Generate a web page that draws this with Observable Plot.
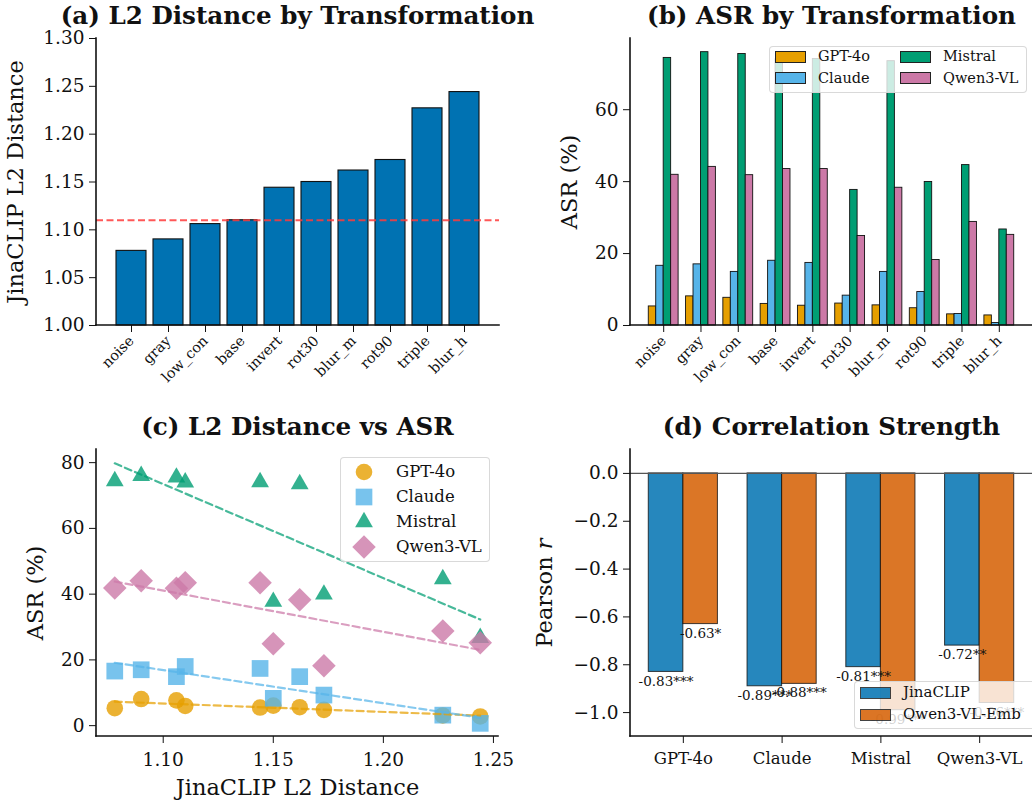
<!DOCTYPE html>
<html><head><meta charset="utf-8">
<script src="https://cdn.jsdelivr.net/npm/d3@7"></script>
<script src="https://cdn.jsdelivr.net/npm/@observablehq/plot@0.6"></script>
<style>
body{margin:0;background:#fff;}
#root{position:relative;width:1032px;height:804px;overflow:hidden;font-family:"DejaVu Serif",serif;color:#111;}
.panel{position:absolute;}
.panel svg text{font-family:"DejaVu Serif",serif;}
.title{position:absolute;font-weight:bold;font-size:24.6px;line-height:24.6px;white-space:nowrap;transform:translateX(-50%);}
.legend{position:absolute;background:rgba(255,255,255,0.8);border:1.5px solid rgba(210,210,210,0.85);border-radius:4px;box-sizing:border-box;}
.legend .item{position:absolute;white-space:nowrap;line-height:1;}
.panel [aria-label="y-axis tick label"], .panel [aria-label="x-axis tick label"]{font-size:18.5px;}
.panel [aria-label="y-axis label"], .panel [aria-label="x-axis label"]{font-size:22.5px;}
#pa [aria-label="x-axis tick label"], #pb [aria-label="x-axis tick label"]{font-size:14.3px;}
#pd [aria-label="x-axis tick label"]{font-size:16.5px;}
</style></head><body><div id="root"></div>
<script>
// ---------------- data ----------------
const transforms = ["noise","gray","low_con","base","invert","rot30","blur_m","rot90","triple","blur_h"];
const l2Distance = [1.078,1.090,1.106,1.110,1.144,1.150,1.162,1.173,1.227,1.244];
const baselineL2 = 1.110;
const models = ["GPT-4o","Claude","Mistral","Qwen3-VL"];
const asrGPT4o  = [5.3,8.1,7.7,6.0,5.5,6.1,5.6,4.8,3.1,2.8];
const asrClaude = [16.6,17.0,14.9,18.0,17.4,8.3,14.9,9.3,3.2,0.7];
const asrMistral= [74.4,76.0,75.5,74.0,74.1,37.7,73.5,39.9,44.6,26.7];
const asrQwen   = [41.9,44.1,41.8,43.5,43.5,24.9,38.3,18.2,28.8,25.2];
const embedders = ["JinaCLIP","Qwen3-VL-Emb"];
const rJina    = [-0.83,-0.89,-0.81,-0.72];
const rQwenEmb = [-0.63,-0.88,-0.99,-0.96];
const sigJina    = ["***","***","***","**"];
const sigQwenEmb = ["*","***","***","***"];
const l2Ticks = [1.00,1.05,1.10,1.15,1.20,1.25,1.30];
const asrTicks = [0,20,40,60];
const scatterXTicks = [1.10,1.15,1.20,1.25];
const scatterYTicks = [0,20,40,60,80];
const rTicks = [0,-0.2,-0.4,-0.6,-0.8,-1.0];

// ---------------- styles ----------------
const modelColors = ["#E69F00","#56B4E9","#009E73","#CC79A7"];
const embColors = ["#0072B2","#D55E00"];
const modelSymbols = ["circle","square","triangle","diamond2"];
const modelR = [8.3, 9.42, 6.6, 10.6];
const FONT = "DejaVu Serif";
const INK = "#111";

const root = document.getElementById("root");
const ns = "http://www.w3.org/2000/svg";

function spines(sides){
  return (index, scales, values, dims) => {
    const g = document.createElementNS(ns,"g");
    const {width,height,marginLeft:l,marginRight:r,marginTop:t,marginBottom:b} = dims;
    const line = (x1,y1,x2,y2) => {
      const e = document.createElementNS(ns,"line");
      e.setAttribute("x1",x1);e.setAttribute("y1",y1);e.setAttribute("x2",x2);e.setAttribute("y2",y2);
      e.setAttribute("stroke",INK);e.setAttribute("stroke-width",1.6);
      e.setAttribute("stroke-linecap","square");
      g.append(e);
    };
    if (sides.includes("left")) line(l,t,l,height-b);
    if (sides.includes("bottom")) line(l,height-b,width-r,height-b);
    return g;
  };
}

function place(id, plot, left, top){
  const d = document.createElement("div");
  d.className = "panel"; d.id = id;
  d.style.left = left+"px"; d.style.top = top+"px";
  d.append(plot); root.append(d);
  return d;
}
function title(text, center, top){
  const d = document.createElement("div");
  d.className = "title"; d.textContent = text;
  d.style.left = center+"px"; d.style.top = top+"px";
  root.append(d);
}
const baseStyle = {fontFamily:FONT, fontSize:"18px", color:INK, background:"transparent", overflow:"visible"};

// ---------------- (a) ----------------
const tableA = transforms.map((t,i)=>({t, v:l2Distance[i]}));
const plotA = Plot.plot({
  width:516, height:400, marginLeft:96, marginRight:17, marginTop:38, marginBottom:75,
  style: baseStyle,
  x:{type:"band", domain:transforms, paddingInner:0.2, paddingOuter:0.49},
  y:{domain:[1.0,1.3]},
  marks:[
    Plot.barY(tableA,{x:"t", y1:1.0, y2:"v", fill:"#0072B2", stroke:INK, strokeWidth:1.1}),
    Plot.ruleY([baselineL2],{stroke:"#ff3b3b", strokeOpacity:0.85, strokeWidth:2, strokeDasharray:"7,3.5"}),
    Plot.axisY({ticks:l2Ticks, tickFormat:d3.format(".2f"), tickSize:7, tickPadding:5, label:"JinaCLIP L2 Distance", labelAnchor:"center", labelArrow:"none", labelOffset:89}),
    Plot.axisX({tickRotate:-45, tickSize:7, tickPadding:6, label:null}),
    spines("left bottom")
  ]
});
place("pa", plotA, 0, 0);

// ---------------- (b) ----------------
const asrSeries = [asrGPT4o, asrClaude, asrMistral, asrQwen];
const tableB = models.flatMap((m,j)=>transforms.map((t,i)=>({t,i,m,j,v:asrSeries[j][i]})));
const plotB = Plot.plot({
  width:516, height:400, marginLeft:114, marginRight:0, marginTop:38, marginBottom:75,
  style: baseStyle,
  x:{domain:[-0.89, 9.89]},
  y:{domain:[0,79.8]},
  color:{domain:models, range:modelColors},
  marks:[
    Plot.rectY(tableB,{x1:d=>d.i+(d.j-2)*0.2, x2:d=>d.i+(d.j-1)*0.2, y1:0, y2:"v", fill:"m", stroke:INK, strokeWidth:0.9}),
    Plot.axisY({ticks:asrTicks, tickSize:7, tickPadding:5, label:"ASR (%)", labelAnchor:"center", labelArrow:"none", labelOffset:69}),
    Plot.axisX({ticks:d3.range(transforms.length), tickFormat:i=>transforms[i], tickRotate:-45, tickSize:7, tickPadding:6, label:null}),
    spines("left bottom")
  ]
});
place("pb", plotB, 516, 0);

// ---------------- (c) ----------------
const tableC = models.flatMap((m,j)=>transforms.map((t,i)=>({m,j,x:l2Distance[i],v:asrSeries[j][i]})));
const plotC = Plot.plot({
  width:516, height:404, marginLeft:96, marginRight:18, marginTop:49, marginBottom:68,
  style: baseStyle,
  x:{domain:[1.0697,1.2523]},
  y:{domain:[-3.3,84]},
  color:{domain:models, range:modelColors},
  marks:[
    ...models.map((m,j)=>Plot.dot(tableC.filter(d=>d.m===m),{x:"x", y:"v", symbol:()=>modelSymbols[j], r:modelR[j], fill:modelColors[j], fillOpacity:0.8, stroke:"none"})),
    Plot.linearRegressionY(tableC,{x:"x", y:"v", z:"m", stroke:"m", ci:0, strokeWidth:2.2, strokeOpacity:0.72, strokeDasharray:"7,4"}),
    Plot.axisY({ticks:scatterYTicks, tickSize:7, tickPadding:5, label:"ASR (%)", labelAnchor:"center", labelArrow:"none", labelOffset:69}),
    Plot.axisX({ticks:scatterXTicks, tickFormat:d3.format(".2f"), tickSize:7, tickPadding:9, label:"JinaCLIP L2 Distance", labelAnchor:"center", labelArrow:"none", labelOffset:58}),
    spines("left bottom")
  ]
});
place("pc", plotC, 0, 400);

// ---------------- (d) ----------------
const tableD = models.flatMap((m,i)=>[
  {m,i,k:0,e:embedders[0],r:rJina[i],sig:sigJina[i]},
  {m,i,k:1,e:embedders[1],r:rQwenEmb[i],sig:sigQwenEmb[i]}
]);
const plotD = Plot.plot({
  width:516, height:404, marginLeft:114, marginRight:0, marginTop:49, marginBottom:68,
  style: baseStyle,
  x:{domain:[-0.535,3.535]},
  y:{domain:[-1.1,0.1]},
  color:{domain:embedders, range:embColors},
  marks:[
    Plot.rectY(tableD,{x1:d=>d.i+(d.k-1)*0.35, x2:d=>d.i+d.k*0.35, y1:0, y2:"r", fill:"e", fillOpacity:0.85, stroke:INK, strokeOpacity:0.8, strokeWidth:1}),
    Plot.ruleY([0],{stroke:"#555", strokeWidth:1.2}),
    Plot.text(tableD,{x:d=>d.i+(d.k-0.5)*0.35, y:"r", text:d=>d.r.toFixed(2)+d.sig, lineAnchor:"top", dy:4, fontSize:13.5, fill:INK}),
    Plot.axisY({ticks:rTicks, tickFormat:d=>d===0?"0.0":"\u2212"+Math.abs(d).toFixed(1), tickSize:7, tickPadding:5, label:"Pearson r", labelAnchor:"center", labelArrow:"none", labelOffset:94}),
    Plot.axisX({ticks:d3.range(models.length), tickFormat:i=>models[i], tickSize:7, tickPadding:9, label:null}),
    spines("left bottom")
  ]
});
place("pd", plotD, 516, 400);
// italic r in the y label
plotD.querySelectorAll('[aria-label="y-axis label"] text').forEach(t=>{
  if (t.textContent.trim()==="Pearson r"){
    t.textContent = "Pearson ";
    const ts = document.createElementNS(ns,"tspan");
    ts.setAttribute("font-style","italic"); ts.textContent = "r";
    t.append(ts);
  }
});

// ---------------- titles ----------------
title("(a) L2 Distance by Transformation", 297.5, 4);
title("(b) ASR by Transformation", 831.5, 4);
title("(c) L2 Distance vs ASR", 297.5, 415);
title("(d) Correlation Strength", 831.5, 415);

// ---------------- legends ----------------
function legendBox(left, top, width, height){
  const d = document.createElement("div");
  d.className = "legend";
  Object.assign(d.style,{left:left+"px",top:top+"px",width:width+"px",height:height+"px"});
  root.append(d); return d;
}
function patchItem(box, x, yc, color, label, fontSize, opacity){
  const it = document.createElement("div"); it.className = "item";
  Object.assign(it.style,{left:x+"px", top:(yc-fontSize*0.6)+"px", fontSize:fontSize+"px", display:"flex", alignItems:"center"});
  const sw = document.createElement("span");
  Object.assign(sw.style,{display:"inline-block", width:"29px", height:"10px", background:color, opacity:opacity??1, border:"1px solid #222", marginRight:"12px"});
  const tx = document.createElement("span"); tx.textContent = label;
  it.append(sw, tx); box.append(it);
}
// (b)
const lb = legendBox(769, 46, 258, 47);
patchItem(lb, 5, 11, modelColors[0], models[0], 14.5);
patchItem(lb, 5, 32.5, modelColors[1], models[1], 14.5);
patchItem(lb, 130, 11, modelColors[2], models[2], 14.5);
patchItem(lb, 130, 32.5, modelColors[3], models[3], 14.5);
// (d)
const ld = legendBox(854, 681, 190, 48);
patchItem(ld, 5, 12, embColors[0], embedders[0], 15, 0.85);
patchItem(ld, 5, 34, embColors[1], embedders[1], 15, 0.85);
// (c)
const lc = legendBox(340, 457, 150, 105);
models.forEach((m,j)=>{
  const it = document.createElement("div"); it.className="item";
  const yc = 14 + j*25;
  Object.assign(it.style,{left:"8px", top:(yc-12)+"px", height:"24px", fontSize:"16.5px", display:"flex", alignItems:"center"});
  const s = document.createElementNS(ns,"svg");
  s.setAttribute("width",30); s.setAttribute("height",24);
  s.style.marginRight = "17px";
  const p = document.createElementNS(ns,"path");
  const typeMap = {circle:d3.symbolCircle, square:d3.symbolSquare, triangle:d3.symbolTriangle, diamond2:d3.symbolDiamond2};
  p.setAttribute("d", d3.symbol(typeMap[modelSymbols[j]], Math.PI*modelR[j]*modelR[j])());
  p.setAttribute("transform","translate(15,12)");
  p.setAttribute("fill",modelColors[j]); p.setAttribute("fill-opacity",0.8);
  s.append(p);
  const tx = document.createElement("span"); tx.textContent = m;
  it.append(s,tx); lc.append(it);
});
</script></body></html>
